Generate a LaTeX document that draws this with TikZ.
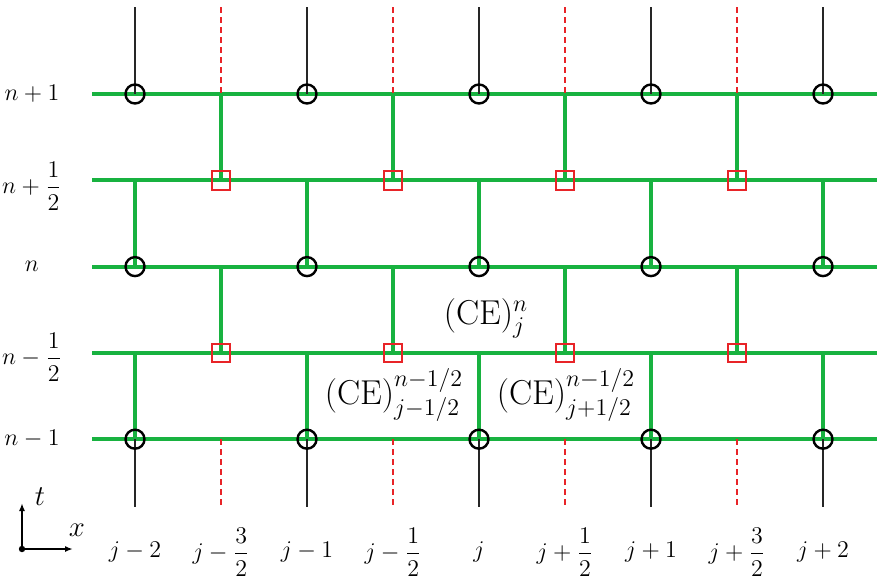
\documentclass[tikz,border=0pt]{standalone}
\usepackage{amsmath,amssymb}
\usepackage{xcolor}
\usetikzlibrary{arrows.meta}

\definecolor{gridgreen}{RGB}{24,178,64}
\definecolor{gridred}{RGB}{232,36,40}

\tikzset{
  greenline/.style={draw=gridgreen,line width=2pt},
  solidline/.style={draw=black!85,line width=0.75pt},
  dashline/.style={draw=gridred,line width=0.75pt,dash pattern=on 3pt off 2pt},
  intpt/.style={draw=black,circle,line width=1.2pt,minimum size=9.5pt,inner sep=0pt},
  halfpt/.style={draw=gridred,rectangle,line width=1.1pt,minimum size=9.3pt,inner sep=0pt},
  lbl/.style={font=\fontsize{12.5}{15}\selectfont,inner sep=0pt},
  axlbl/.style={font=\fontsize{14}{16}\selectfont,inner sep=0pt},
  celbl/.style={font=\fontsize{18}{21}\selectfont,inner sep=0pt}
}

\begin{document}
\begin{tikzpicture}[x=0.5pt,y=-0.5pt,>=Latex]
  \useasboundingbox (0,0) rectangle (877,578);
  % grid points, line ends
  \foreach \c in {0,...,8}{
    \foreach \r in {0,...,4}
      \coordinate (p-\c-\r) at ({135+86*\c},{94+86.3*\r});
    \coordinate (t-\c) at ({135+86*\c},7);
    \coordinate (b-\c) at ({135+86*\c},507);
  }
  \foreach \r in {0,...,4}{
    \coordinate (l-\r) at (92,{94+86.3*\r});
    \coordinate (e-\r) at (877,{94+86.3*\r});
  }

  % time levels
  \foreach \r in {0,...,4}
    \draw[greenline] (l-\r) -- (e-\r);
  \foreach \r/\s in {0/1,2/3}
    \foreach \c in {1,3,5,7}
      \draw[greenline] (p-\c-\r) -- (p-\c-\s);
  \foreach \r/\s in {1/2,3/4}
    \foreach \c in {0,2,4,6,8}
      \draw[greenline] (p-\c-\r) -- (p-\c-\s);

  % mesh lines outside
  \foreach \c in {0,2,4,6,8}{
    \draw[solidline] (t-\c) -- (p-\c-0);
    \draw[solidline] (p-\c-4) -- (b-\c);
  }
  \foreach \c in {1,3,5,7}{
    \draw[dashline] (t-\c) -- (p-\c-0);
    \draw[dashline] (p-\c-4) -- (b-\c);
  }

  % solution points
  \foreach \r in {0,2,4}
    \foreach \c in {0,2,4,6,8}
      \node[intpt] (o-\c-\r) at (p-\c-\r) {};
  \foreach \r in {1,3}
    \foreach \c in {1,3,5,7}
      \node[halfpt] (q-\c-\r) at (p-\c-\r) {};

  % row labels
  \node[lbl] (rn1)  at (32,94)  {$n+1$};
  \node[lbl] (rnh1) at (32,186) {$n+\dfrac{1}{2}$};
  \node[lbl] (rn)   at (32,266) {$n$};
  \node[lbl] (rnh0) at (32,357) {$n-\dfrac{1}{2}$};
  \node[lbl] (rn0)  at (32,439) {$n-1$};

  % column labels
  \foreach \c/\txt in {0/j-2,1/j-\dfrac{3}{2},2/j-1,3/j-\dfrac{1}{2},4/j,
                       5/j+\dfrac{1}{2},6/j+1,7/j+\dfrac{3}{2},8/j+2}
    \node[lbl] (col-\c) at ({135+86*\c},552) {$\txt$};

  % conservation elements
  \node[celbl] (ce-n)  at (486,318) {$(\mathrm{CE})_j^n$};
  \node[celbl] (ce-lo) at (394,395) {$(\mathrm{CE})_{j-1/2}^{n-1/2}$};
  \node[celbl] (ce-hi) at (566,395) {$(\mathrm{CE})_{j+1/2}^{n-1/2}$};

  % axes
  \coordinate (ax-o) at (22,549);
  \coordinate (ax-t) at (22,503);
  \coordinate (ax-x) at (73,549);
  \fill (ax-o) circle (1.6pt);
  \draw[line width=0.8pt,-{Latex[length=4pt,width=3pt]}] (ax-o) -- (ax-t);
  \draw[line width=0.8pt,-{Latex[length=4pt,width=3pt]}] (ax-o) -- (ax-x);
  \node[axlbl] (t-lbl) at (40,497) {$t$};
  \node[axlbl] (x-lbl) at (77,530) {$x$};
\end{tikzpicture}
\end{document}
